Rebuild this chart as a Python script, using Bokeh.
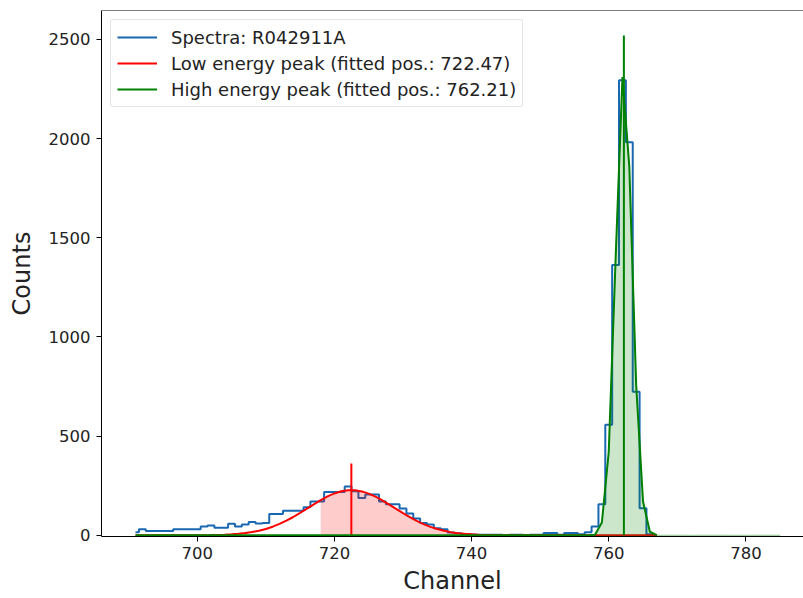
from bokeh.plotting import figure
from bokeh.models import Range1d, Span, FixedTicker
from bokeh.embed import file_html
from bokeh.resources import INLINE

# ---- data ----
channels = list(range(691, 768))
counts = [15, 30, 22, 22, 22, 22, 30, 30, 30, 30,
          45, 50, 38, 38, 58, 45, 55, 67, 60, 62,
          107, 107, 124, 124, 124, 141, 171, 171, 218, 218,
          218, 246, 222, 188, 206, 206, 171, 157, 157, 135,
          110, 85, 62, 55, 35, 30, 14, 10, 5, 4,
          3, 3, 3, 3, 2, 3, 3, 2, 3, 3,
          12, 12, 3, 12, 12, 5, 15, 45, 156, 558,
          1363, 2294, 1982, 724, 136, 5, 0]

low_fit = [0.0, 0.0, 0.0, 0.0, 0.02, 0.03, 0.06, 0.12, 0.23, 0.4,
           0.7, 1.2, 1.9, 3.1, 4.9, 7.5, 11.2, 16.3, 23.2, 32.1,
           43.5, 57.3, 73.6, 92.3, 112.9, 134.5, 156.4, 177.3, 195.9, 211.1,
           221.9, 227.4, 227.2, 221.4, 210.3, 194.9, 176.1, 155.1, 133.2, 111.6,
           91.2, 72.6, 56.4, 42.7, 31.6, 22.7, 16.0, 10.9, 7.3, 4.8,
           3.1, 1.9, 1.2, 0.7, 0.4, 0.2, 0.1, 0.0, 0.0, 0.0,
           0.0, 0.0, 0.0, 0.0, 0.0, 0.0, 0.0, 0.0, 0.0, 0.0,
           0.0, 0.0, 0.0, 0.0, 0.0, 0.0, 0.0]

high_fit = [0.0] * 67 + [3, 64, 420, 1390, 2310, 1860, 760, 170, 18, 1]

low_pos = 722.47
high_pos = 762.21
low_line_top = 362
high_line_top = 2520

low_fill_start = 718
high_fill_start = 758
high_fill_end = 785

x_ticks = [700, 720, 740, 760, 780]
y_ticks = [0, 500, 1000, 1500, 2000, 2500]

spectra_label = "Spectra: R042911A"
low_label = "Low energy peak (fitted pos.: 722.47)"
high_label = "High energy peak (fitted pos.: 762.21)"

BLUE = "#1868b2"
RED = "#ff0000"
GREEN = "#008000"
FONT = "DejaVu Sans"

y_top = 2646

p = figure(width=803, height=598,
           x_range=Range1d(686.04, 788.4), y_range=Range1d(-6, y_top),
           output_backend="svg", toolbar_location=None,
           min_border_left=101, min_border_right=0,
           min_border_top=10, min_border_bottom=62)
p.xgrid.visible = False
p.ygrid.visible = False
p.outline_line_color = None
p.background_fill_color = "white"
p.border_fill_color = "white"

# spectrum
p.step(channels, counts, mode="center", line_color=BLUE, line_width=2,
       legend_label=spectra_label)

# low energy fill + curve
lx = [c for c in channels if c >= low_fill_start]
ly = [v for c, v in zip(channels, low_fit) if c >= low_fill_start]
p.varea(x=lx, y1=[0] * len(lx), y2=ly, fill_color=RED, fill_alpha=0.2)
p.line(channels, low_fit, line_color=RED, line_width=2, legend_label=low_label)
p.segment(x0=[low_pos], y0=[0], x1=[low_pos], y1=[low_line_top],
          line_color=RED, line_width=2)

# high energy fill + curve
hx = list(range(high_fill_start, high_fill_end + 1))
fit_map = dict(zip(channels, high_fit))
hy = [fit_map.get(c, 0.0) for c in hx]
p.patch(hx + hx[::-1], hy + [0] * len(hx), fill_color=GREEN, fill_alpha=0.2,
        line_color=GREEN, line_alpha=0.25, line_width=1)
p.line(channels, high_fit, line_color=GREEN, line_width=2, legend_label=high_label)
p.segment(x0=[high_pos], y0=[0], x1=[high_pos], y1=[high_line_top],
          line_color=GREEN, line_width=2)

# top spine
p.add_layout(Span(location=y_top, dimension="width", line_color="black", line_width=1))

# axes
for ax in (p.xaxis, p.yaxis):
    ax.axis_line_color = "black"
    ax.axis_line_width = 1
    ax.major_tick_in = 0
    ax.major_tick_out = 5
    ax.minor_tick_line_color = None
    ax.major_label_text_font = FONT
    ax.major_label_text_font_size = "16.5px"
    ax.major_label_text_color = "#222222"
    ax.axis_label_text_font = FONT
    ax.axis_label_text_font_size = "24px"
    ax.axis_label_text_font_style = "normal"
    ax.axis_label_text_color = "#222222"
p.xaxis.ticker = FixedTicker(ticks=x_ticks)
p.yaxis.ticker = FixedTicker(ticks=y_ticks)
p.xaxis.axis_label = "Channel"
p.yaxis.axis_label = "Counts"
p.xaxis.major_label_standoff = 5
p.xaxis.axis_label_standoff = 5
p.yaxis.major_label_standoff = 6
p.yaxis.axis_label_standoff = 10

# legend
lg = p.legend[0]
lg.location = "top_left"
lg.margin = 9
lg.padding = 6
lg.spacing = 4
lg.label_text_font = FONT
lg.label_text_font_size = "18px"
lg.label_text_color = "#222222"
lg.label_height = 22
lg.glyph_height = 22
lg.glyph_width = 40
lg.label_standoff = 14
lg.border_line_color = "#cccccc"
lg.border_line_width = 1
lg.border_radius = 3
lg.background_fill_alpha = 0.85

open("out.html", "w").write(file_html(p, INLINE))
